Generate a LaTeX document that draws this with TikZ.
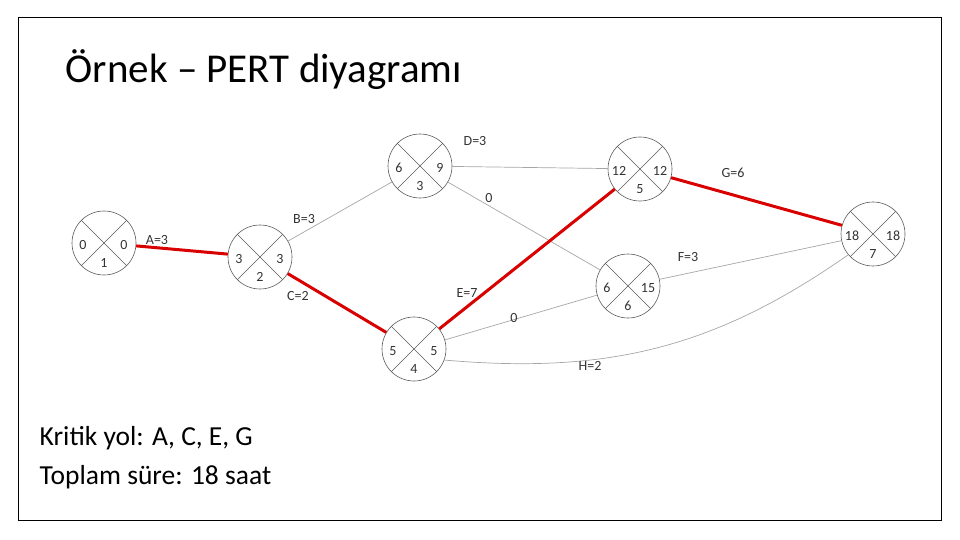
\documentclass[tikz,border=0pt]{standalone}
\usepackage{fontspec}
\setmainfont{Carlito}
\usetikzlibrary{calc}
\begin{document}
\begin{tikzpicture}[x=1pt,y=-1pt,thick,
  olay/.style={circle,draw=gray!70!black,line width=0.6pt,minimum size=64pt,inner sep=0pt},
  plain/.style={draw=gray!70,line width=0.7pt},
  krit/.style={draw=red!85!black,line width=3pt},
  lbl/.style={font=\fontsize{14}{15}\selectfont,text=black!80}]

\useasboundingbox (0,0) rectangle (960,540);
\draw[line width=1pt] (18,18) rectangle (941,520);

\node[anchor=west,font=\fontsize{41}{44}\selectfont] (title) at (62,70) {Örnek – PERT diyagramı};
\node[anchor=west,font=\fontsize{27.5}{30}\selectfont] (krityol) at (36,438) {Kritik yol: A, C, E, G};
\node[anchor=west,font=\fontsize{27.5}{30}\selectfont] (sure) at (36,477) {Toplam süre: 18 saat};

% olay dugumleri
\def\olay#1#2#3#4#5{
	\node[olay] (#1) at #2 {};
	\draw[gray!70!black,line width=0.6pt] (#1.45) -- (#1.225) (#1.135) -- (#1.-45);
	\node[lbl] at ($(#1)+(-21,2)$) {#3};
	\node[lbl] at ($(#1)+(20,2)$) {#4};
	\node[lbl] at ($(#1)+(0,20)$) {#5};
}

\olay{n1}{(104,243)}{0}{0}{1}
\olay{n2}{(260,257)}{3}{3}{2}
\olay{n3}{(420,166)}{6}{9}{3}
\olay{n4}{(414,349)}{5}{5}{4}
\olay{n5}{(640,169)}{12}{12}{5}
\olay{n6}{(628,286)}{6}{15}{6}
\olay{n7}{(873,234)}{18}{18}{7}

\draw[krit] (n1) -- (n2);
\draw[plain] (n2) -- (n3);
\draw[krit] (n2) -- (n4);
\draw[plain] (n3) -- (n5);
\draw[plain] (n3) -- (n6);
\draw[krit] (n4) -- (n5);
\draw[plain] (n4) -- (n6);
\draw[plain] (n6) -- (n7);
\draw[krit] (n5) -- (n7);
\draw[plain] (n4.-20) to[out=-5,in=-145] (n7.-140);

\node[lbl] (a) at (157,240) {A=3};
\node[lbl] (b) at (304,219) {B=3};
\node[lbl] (c) at (298,296) {C=2};
\node[lbl] (d) at (475,141) {D=3};
\node[lbl] (z1) at (489,198) {0};
\node[lbl] (e) at (467,293) {E=7};
\node[lbl] (z2) at (514,318) {0};
\node[lbl] (f) at (688,257) {F=3};
\node[lbl] (g) at (733,173) {G=6};
\node[lbl] (h) at (590,366) {H=2};
\end{tikzpicture}
\end{document}
